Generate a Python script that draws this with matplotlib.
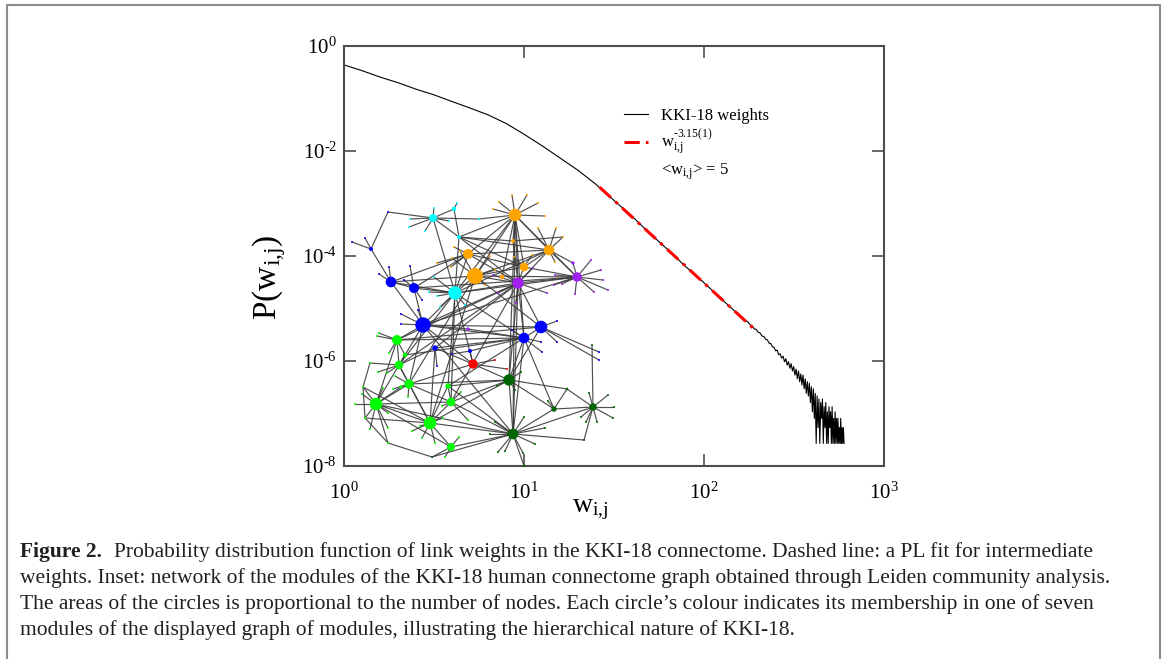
import numpy as np
import matplotlib.pyplot as plt
from matplotlib.collections import LineCollection
from matplotlib.lines import Line2D
from matplotlib.ticker import FuncFormatter

plt.rcParams['font.family'] = ['Liberation Serif', 'DejaVu Serif']
plt.rcParams['mathtext.fontset'] = 'custom'
plt.rcParams['mathtext.rm'] = 'Liberation Serif'
plt.rcParams['mathtext.it'] = 'Liberation Serif:italic'
plt.rcParams['mathtext.bf'] = 'Liberation Serif:bold'

# ---- distribution of link weights ----
w_smooth = [1, 1.26, 1.58, 2, 2.5, 3.16, 4, 5, 6.3, 8, 10, 12.6, 15.8, 20, 25,
            31.6, 40, 50, 63, 79, 100, 126]
logp_smooth = [-0.36, -0.47, -0.59, -0.70, -0.82, -0.93, -1.06, -1.18, -1.31,
               -1.48, -1.68, -1.90, -2.13, -2.37, -2.63, -2.94, -3.25, -3.57,
               -3.88, -4.20, -4.51, -4.83]

# tail: counts per bin, w = 150 ... 600
w_tail = list(range(150, 601, 5))
tail_counts = [318, 300, 262, 248, 219, 207, 183, 174, 152, 149, 131, 127, 111,
               109, 96, 94, 81, 80, 69, 68, 58, 60, 49, 51, 42, 46, 36, 41, 31,
               36, 27, 33, 24, 29, 20, 26, 17, 24, 15, 21, 13, 20, 11, 17, 9,
               15, 8, 14, 6, 12, 4, 11, 3, 9, 1, 8, 2, 7, 1, 6, 3, 7, 1, 5, 2,
               6, 1, 4, 1, 5, 2, 4, 1, 5, 1, 3, 1, 4, 1, 3, 1, 3, 1, 2, 1, 3,
               1, 2, 1, 2, 1]
log_one_count = -7.57

# power law fit, end points
fit_w = [26.3, 187]
fit_logp = [-2.69, -5.37]

legend_labels = ['KKI-18 weights',
                 r'$\mathrm{w}_{\mathrm{i{,}j}}^{\text{-3.15(1)}}$',
                 r'<$\mathrm{w}_{\mathrm{i{,}j}}$> = 5']

# ---- inset: graph of modules (pixel positions in the figure) ----
mod_colors = {'cy': '#00ffff', 'or': '#ffa500', 'pu': '#a020f0',
              'bl': '#0000ff', 're': '#ff0000', 'li': '#00ff00',
              'dg': '#006400'}

nodes = [
    ('c1', 433, 218, 4.0, 'cy'), ('c2', 454, 209, 2.3, 'cy'),
    ('c3', 459, 237, 2.0, 'cy'), ('c4', 455, 293, 6.7, 'cy'),
    ('c5', 479, 219, 1.0, 'cy'),
    ('o1', 515, 215, 6.3, 'or'), ('o2', 468, 254, 5.0, 'or'),
    ('o3', 549, 250, 5.3, 'or'), ('o4', 475, 276, 8.0, 'or'),
    ('o5', 524, 267, 4.3, 'or'), ('o6', 513, 241, 2.0, 'or'),
    ('o7', 502, 277, 2.3, 'or'), ('th', 563, 237, 1.0, 'or'),
    ('p1', 518, 283, 5.7, 'pu'), ('p2', 577, 277, 4.7, 'pu'),
    ('p3', 573, 263, 1.7, 'pu'), ('p4', 468, 329, 1.7, 'pu'),
    ('b1', 371, 249, 2.0, 'bl'), ('b2', 391, 282, 5.3, 'bl'),
    ('b3', 414, 288, 5.0, 'bl'), ('b4', 423, 325, 7.7, 'bl'),
    ('b5', 541, 327, 6.3, 'bl'), ('b6', 524, 338, 5.3, 'bl'),
    ('b7', 435, 348, 2.7, 'bl'), ('b8', 470, 351, 2.0, 'bl'),
    ('t1', 388, 212, 1.0, 'bl'),
    ('r1', 473, 364, 4.7, 're'),
    ('g1', 397, 340, 5.0, 'li'), ('g2', 405, 355, 2.3, 'li'),
    ('g3', 399, 365, 4.3, 'li'), ('g4', 409, 384, 4.7, 'li'),
    ('g5', 376, 404, 6.3, 'li'), ('g6', 430, 423, 6.3, 'li'),
    ('g7', 451, 402, 4.3, 'li'), ('g8', 448, 386, 2.7, 'li'),
    ('g9', 451, 447, 4.0, 'li'), ('g10', 401, 387, 1.7, 'li'),
    ('ta', 370, 363, 1.0, 'li'), ('tb', 363, 387, 1.0, 'li'),
    ('tc', 365, 418, 1.0, 'li'), ('td', 388, 443, 1.0, 'li'),
    ('d1', 509, 380, 5.7, 'dg'), ('d2', 513, 434, 5.3, 'dg'),
    ('d3', 554, 409, 2.7, 'dg'), ('d4', 593, 407, 3.7, 'dg'),
    ('d5', 567, 389, 1.3, 'dg'), ('te', 432, 457, 1.0, 'dg'),
    ('tf', 584, 440, 1.0, 'dg'), ('tg', 592, 345, 1.0, 'dg'),
]

edges = [
    ('t1', 'b1'), ('t1', 'c1'), ('b1', 'b2'), ('c1', 'c2'), ('c1', 'c3'),
    ('c1', 'c4'), ('c1', 'c5'), ('c5', 'o1'), ('c2', 'c3'), ('c3', 'c4'),
    ('c3', 'o1'), ('c3', 'o3'), ('c3', 'o5'), ('c3', 'p1'), ('c3', 'o6'),
    ('c4', 'b2'), ('c4', 'b3'), ('c4', 'o4'), ('c4', 'o2'), ('c4', 'o1'),
    ('c4', 'p1'), ('c4', 'b4'), ('c4', 'g7'), ('c4', 'g8'), ('c4', 'r1'),
    ('c4', 'b6'), ('c4', 'o3'), ('c4', 'g3'), ('c4', 'p2'),
    ('o1', 'o3'), ('o1', 'o5'), ('o1', 'p1'), ('o1', 'p2'), ('o1', 'o2'),
    ('o1', 'o4'), ('o1', 'o6'), ('o1', 'd2'), ('o1', 'd1'), ('o1', 'b6'),
    ('o1', 'o7'), ('o2', 'o3'), ('o2', 'o5'), ('o2', 'p1'), ('o2', 'b3'),
    ('o2', 'b2'), ('o3', 'p2'), ('o3', 'o5'), ('o3', 'o4'), ('o3', 'p1'),
    ('o3', 'th'), ('th', 'o6'), ('o3', 'p3'), ('o4', 'p1'), ('o4', 'o5'),
    ('o4', 'p2'), ('o4', 'g4'), ('o4', 'b5'), ('o4', 'g6'), ('o4', 'b2'),
    ('o5', 'p2'), ('o5', 'p1'), ('o6', 'p1'), ('p1', 'p2'), ('p1', 'b6'),
    ('p1', 'b5'), ('p1', 'd2'), ('p1', 'g1'), ('p1', 'g7'), ('p1', 'b7'),
    ('p1', 'b4'), ('p1', 'd1'), ('p1', 'g3'), ('p2', 'b4'), ('p2', 'b3'),
    ('p3', 'p2'), ('p4', 'b4'), ('p4', 'b6'), ('b2', 'b3'), ('b2', 'b4'),
    ('b3', 'b4'), ('b4', 'b5'), ('b4', 'b6'), ('b4', 'g1'), ('b4', 'g3'),
    ('b4', 'g4'), ('b4', 'r1'), ('b4', 'd2'), ('b5', 'b6'), ('b5', 'd1'),
    ('b5', 'g1'), ('b6', 'g1'), ('b6', 'd2'), ('b6', 'd3'), ('b6', 'd1'),
    ('b6', 'g2'), ('b6', 'b7'), ('b6', 'g8'), ('b7', 'g3'), ('b7', 'g6'),
    ('b8', 'b6'), ('b8', 'r1'), ('r1', 'd1'), ('r1', 'g4'), ('r1', 'b7'),
    ('g1', 'g2'), ('g1', 'g3'), ('g1', 'g5'), ('g2', 'g3'), ('g3', 'g4'),
    ('g3', 'g5'), ('g3', 'ta'), ('g3', 'g6'), ('g4', 'g5'), ('g4', 'g6'),
    ('g4', 'g7'), ('g4', 'g10'), ('g4', 'd1'), ('g5', 'g6'), ('g5', 'g7'),
    ('g5', 'd2'), ('g5', 'tb'), ('g5', 'g9'), ('g5', 'td'), ('g5', 'g10'),
    ('g6', 'd2'), ('g6', 'g7'), ('g6', 'g9'), ('g6', 'g8'), ('g6', 'd1'),
    ('g6', 'tb'), ('g7', 'd2'), ('g7', 'g8'), ('g7', 'd1'), ('g8', 'd1'),
    ('g8', 'd2'), ('g9', 'd2'), ('g9', 'te'), ('td', 'te'), ('te', 'd2'),
    ('ta', 'tb'), ('tb', 'tc'), ('tc', 'g6'), ('tc', 'td'), ('d1', 'd2'),
    ('d2', 'd3'), ('d2', 'd4'), ('d2', 'tf'), ('tf', 'd4'), ('d1', 'd5'),
    ('d5', 'd4'), ('d5', 'd3'), ('d3', 'd4'), ('d4', 'tg'), ('d1', 'd3'),
]

# short spokes from a hub to single-node leaves (offsets in pixels)
spokes = {
    'o1': [(-16, -13), (-3, -20), (12, -20), (23, -12), (30, 1), (-22, -6)],
    'c1': [(-23, 1), (-24, 9), (-8, 13), (1, -10), (16, 3)],
    'c2': [(3, -6)],
    'c4': [(-21, -16), (-15, 14), (10, 12), (-18, 3), (-26, -1)],
    'o2': [(-14, -7), (-17, 13), (-31, 9)],
    'o3': [(7, -22), (6, 12), (-11, -22)],
    'o4': [(-23, -18), (-15, -25), (10, 9), (20, -6), (15, -20)],
    'o5': [(-10, -10), (8, -12)],
    'p1': [(29, 10), (-2, 20), (-25, -8), (-20, 10), (15, -15)],
    'p2': [(14, -17), (24, -7), (26, 3), (31, 13), (17, 15), (-2, 17),
           (-15, 7), (-22, -2), (-23, 8)],
    'b1': [(-19, -7), (-6, -11)],
    'b2': [(-2, -15), (-12, -8)],
    'b3': [(-4, -22), (8, 12), (-10, -8)],
    'b4': [(-22, -11), (-22, -1), (-5, -15)],
    'b5': [(16, -6), (58, 25), (58, 33), (16, 15)],
    'b6': [(17, 4), (18, 14), (-12, -8)],
    'b7': [(2, 18)],
    'b8': [(-18, 3)],
    'r1': [(22, -4), (34, 5)],
    'g1': [(-18, -7), (-8, 13), (-20, -4)],
    'g3': [(-21, 7), (-12, 8)],
    'g4': [(-1, 13), (-16, 5), (-14, -8)],
    'g5': [(-11, 14), (-6, 25), (-21, 0), (12, 24), (7, -16), (-14, -10),
           (12, 9)],
    'g6': [(-8, 15), (-10, 3), (13, -5), (-18, 8), (5, 20)],
    'g7': [(-9, 4), (17, 18), (10, -10)],
    'g9': [(-6, 10), (8, -10)],
    'd1': [(6, 10), (12, -8), (-12, 6)],
    'd2': [(-8, 17), (10, 19), (22, 10), (32, -6), (11, -17), (-23, 0),
           (-18, -12), (11, 32), (-15, 18)],
    'd3': [(-6, -8)],
    'd4': [(15, -12), (21, 0), (20, 11), (4, 15), (-7, 15), (-4, -14),
           (-12, 10)],
}

caption_bold = 'Figure 2.'
caption_lines = [
    'Probability distribution function of link weights in the KKI-18 connectome. Dashed line: a PL fit for intermediate',
    'weights. Inset: network of the modules of the KKI-18 human connectome graph obtained through Leiden community analysis.',
    'The areas of the circles is proportional to the number of nodes. Each circle\u2019s colour indicates its membership in one of seven',
    'modules of the displayed graph of modules, illustrating the hierarchical nature of KKI-18.',
]

# ---------------------------------------------------------------
W, H = 1165, 659
fig = plt.figure(figsize=(W / 100, H / 100), dpi=100)
ax = fig.add_axes([344 / W, (H - 466) / H, 540 / W, 420 / H])

w_all = np.array(w_smooth + w_tail, dtype=float)
p_all = np.concatenate([10.0 ** np.array(logp_smooth),
                        np.array(tail_counts) * 10.0 ** log_one_count])
h_data, = ax.plot(w_all, p_all, color='black', lw=0.8)
h_fit, = ax.plot(fit_w, 10.0 ** np.array(fit_logp), color='red', lw=2.2,
                 ls=(0, (5, 2, 1, 2)))
h_none = Line2D([], [], color='none')

ax.set_xscale('log')
ax.set_yscale('log')
ax.set_xlim(1, 1e3)
ax.set_ylim(1e-8, 1)
ax.set_xticks([1, 10, 100, 1000])
ax.set_yticks([1, 1e-2, 1e-4, 1e-6, 1e-8])
ax.minorticks_off()
pow_fmt = FuncFormatter(lambda v, p: r'$10^{\text{%d}}$' % round(np.log10(v)))
ax.xaxis.set_major_formatter(pow_fmt)
ax.yaxis.set_major_formatter(pow_fmt)
ax.tick_params(direction='in', length=8.5, width=1.2, color='#4d4d4d',
               top=True, right=True, labelsize=15)
ax.tick_params(axis='x', pad=12)
ax.tick_params(axis='y', pad=5)
for s in ax.spines.values():
    s.set_color('#4d4d4d')
    s.set_linewidth(1.5)

ax.set_xlabel(r'$\mathrm{w}_{\mathrm{i{,}j}}$', fontsize=20)
ax.xaxis.set_label_coords(0.455, -0.075)
ax.set_ylabel(r'$\mathrm{P(w}_{\mathrm{i{,}j}}\mathrm{)}$', fontsize=24)
ax.yaxis.set_label_coords(-0.104, 0.45)

ax.legend([h_data, h_fit, h_none], legend_labels, loc='upper left',
          bbox_to_anchor=(0.5185, 0.853), frameon=False, fontsize=12,
          handlelength=1.45, handletextpad=0.75, borderpad=0,
          borderaxespad=0, labelspacing=0.25)

# overlay in figure pixels: inset network, caption, frame
ov = fig.add_axes([0, 0, 1, 1], zorder=5)
ov.set_xlim(0, W)
ov.set_ylim(H, 0)
ov.axis('off')
ov.patch.set_alpha(0)

pos = {n[0]: (n[1], n[2]) for n in nodes}
col = {n[0]: mod_colors[n[4]] for n in nodes}
segs = [[pos[a], pos[b]] for a, b in edges]
leaf_x, leaf_y, leaf_c = [], [], []
for hub, offs in spokes.items():
    x0, y0 = pos[hub]
    for dx, dy in offs:
        segs.append([(x0, y0), (x0 + dx, y0 + dy)])
        leaf_x.append(x0 + dx)
        leaf_y.append(y0 + dy)
        leaf_c.append(col[hub])
ov.add_collection(LineCollection(segs, colors='#3c3c3c', linewidths=0.85,
                                 alpha=0.9, zorder=1))
ov.scatter(leaf_x, leaf_y, s=(2 * 1.0 * 0.72) ** 2, c=leaf_c, lw=0, zorder=2)
ov.scatter([n[1] for n in nodes], [n[2] for n in nodes],
           s=[(2 * n[3] * 0.72) ** 2 for n in nodes],
           c=[mod_colors[n[4]] for n in nodes], lw=0, zorder=3)

# caption
cap_color = '#231f20'
cap_size = 15.5
y0 = 557
tb = ov.text(20, y0, caption_bold, fontsize=cap_size, fontweight='bold',
             color=cap_color, va='baseline')
r = fig.canvas.get_renderer()
bw = tb.get_window_extent(r).width
for i, line in enumerate(caption_lines):
    x = 20 + bw + 12 if i == 0 else 20
    ov.text(x, y0 + 26 * i, line, fontsize=cap_size, color=cap_color,
            va='baseline')

# page frame
ov.add_line(Line2D([7, 7, 1160, 1160], [H + 5, 5, 5, H + 5],
                   color='#8c8c8c', lw=1.5))

fig.savefig('out.png', dpi=100)
